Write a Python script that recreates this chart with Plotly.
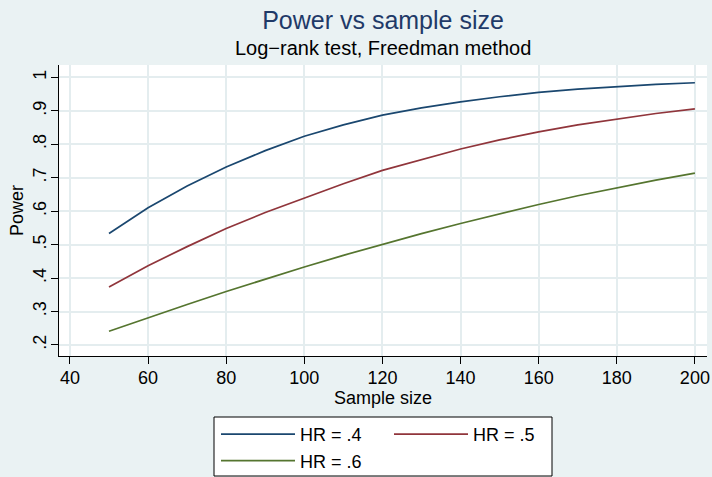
import plotly.graph_objects as go

# Sample sizes and power for three hazard ratios (log-rank test, Freedman method)
sample_size = [50, 60, 70, 80, 90, 100, 110, 120, 130, 140, 150, 160, 170, 180, 190, 200]
power_hr04 = [0.533, 0.610, 0.675, 0.732, 0.781, 0.824, 0.858, 0.887, 0.909, 0.927,
              0.942, 0.955, 0.965, 0.973, 0.979, 0.984]
power_hr05 = [0.373, 0.437, 0.494, 0.548, 0.596, 0.640, 0.682, 0.722, 0.755, 0.786,
              0.813, 0.837, 0.858, 0.876, 0.892, 0.906]
power_hr06 = [0.241, 0.282, 0.321, 0.360, 0.397, 0.433, 0.468, 0.501, 0.533, 0.563,
              0.592, 0.620, 0.646, 0.670, 0.693, 0.714]

series_names = ["HR = .4", "HR = .5", "HR = .6"]
series_colors = ["#1a476f", "#90353b", "#55752f"]
# legend columns: .4 and .6 stacked in the first column, .5 in the second
series_groups = ["a", "b", "a"]

x_ticks = [40, 60, 80, 100, 120, 140, 160, 180, 200]
y_ticks = [0.2, 0.3, 0.4, 0.5, 0.6, 0.7, 0.8, 0.9, 1.0]
y_tick_labels = [".2", ".3", ".4", ".5", ".6", ".7", ".8", ".9", "1"]

FONT = "Liberation Sans, Arial, sans-serif"
BG = "#eaf2f3"
GRID = "#e4edef"

# plot area in pixels (used to place the title block and legend frame)
PLOT_L, PLOT_R, PLOT_T, PLOT_B = 59, 707, 65, 356
PW, PH = PLOT_R - PLOT_L, PLOT_B - PLOT_T


def px_x(p):
    return (p - PLOT_L) / PW


def px_y(p):
    return (PLOT_B - p) / PH


fig = go.Figure()
for name, ys, color, grp in zip(series_names, [power_hr04, power_hr05, power_hr06],
                                series_colors, series_groups):
    fig.add_trace(go.Scatter(
        x=sample_size, y=ys, mode="lines", name=name, legendgroup=grp,
        line=dict(color=color, width=1.7), hoverinfo="x+y",
    ))

# white legend frame with a thin black border
fig.add_shape(type="rect", xref="paper", yref="paper",
              x0=px_x(214), x1=px_x(552), y0=px_y(417), y1=px_y(476),
              fillcolor="white", line=dict(color="black", width=1), layer="below")

fig.update_layout(
    width=712, height=477,
    margin=dict(l=PLOT_L, r=712 - PLOT_R, t=PLOT_T, b=477 - PLOT_B, autoexpand=False),
    paper_bgcolor=BG, plot_bgcolor="white",
    font=dict(family=FONT, color="black", size=18),
    title=dict(text="Power vs sample size", x=(PLOT_L + PW / 2) / 712, xanchor="center",
               y=1 - 20 / 477, yanchor="middle", yref="container",
               font=dict(size=25, color="#1f3a68", family=FONT)),
    annotations=[dict(text="Log\u2212rank test, Freedman method", xref="paper", yref="paper",
                      x=0.5, y=px_y(48), xanchor="center", yanchor="middle",
                      showarrow=False, font=dict(size=20, color="black", family=FONT))],
    xaxis=dict(range=[37.2, 203.1], tickmode="array", tickvals=x_ticks,
               showline=True, linecolor="black", linewidth=1,
               ticks="outside", ticklen=7, tickcolor="black", tickwidth=1,
               ticklabelstandoff=-2,
               showgrid=True, gridcolor=GRID, gridwidth=1.5, zeroline=False,
               tickfont=dict(size=18),
               title=dict(text="Sample size", font=dict(size=18), standoff=0)),
    yaxis=dict(range=[0.167, 1.037], tickmode="array", tickvals=y_ticks,
               ticktext=y_tick_labels, tickangle=-90,
               showline=True, linecolor="black", linewidth=1,
               ticks="outside", ticklen=7, tickcolor="black", tickwidth=1,
               ticklabelstandoff=-2,
               showgrid=True, gridcolor=GRID, gridwidth=1.5, zeroline=False,
               tickfont=dict(size=18),
               title=dict(text="Power", font=dict(size=18), standoff=1)),
    legend=dict(orientation="h", traceorder="grouped", tracegroupgap=0,
                x=px_x(216), xanchor="left", y=px_y(416), yanchor="top",
                bgcolor="rgba(0,0,0,0)", borderwidth=0,
                itemwidth=74, entrywidth=84, font=dict(size=18)),
    showlegend=True,
)

fig.write_html("out.html")
